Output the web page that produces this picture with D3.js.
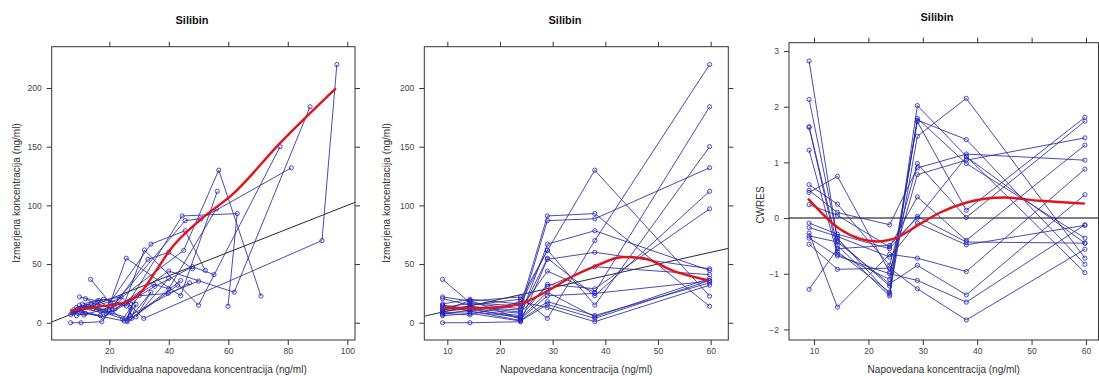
<!DOCTYPE html>
<html><head><meta charset="utf-8">
<script src="https://cdn.jsdelivr.net/npm/d3@7"></script>
<style>
body{margin:0;background:#fff;}
svg{font-family:"Liberation Sans",Arial,sans-serif;}
</style></head>
<body><svg id="c" width="1099" height="376"></svg>
<script>
// population predictions (shared design points)
const pred = [9.1, 14.3, 23.9, 29.0, 38.0, 59.8];
// measured concentrations per subject (time order)
const dv = [
 [22, 18.5, 22, 3.7, 70, 220],
 [13, 16.5, 12, 44, 26, 184],
 [16, 20, 16, 62, 15, 150],
 [11, 13.6, 10.8, 87, 88.6, 132],
 [9.5, 12.2, 8, 55, 23, 112],
 [8.5, 9.4, 5, 32.7, 29, 97],
 [20.5, 15, 20, 61.6, 130, 22.7],
 [37, 17, 14.3, 91, 93, 14],
 [7, 11, 6, 67, 78.4, 44.6],
 [0, 0, 0.85, 54, 60, 46],
 [12, 14, 9, 31, 47.7, 41],
 [10, 19, 3, 23, 25, 35.5],
 [14, 10, 2, 18, 6.2, 34],
 [8, 6.6, 18, 13, 0.9, 32],
 [6, 8, 1.5, 15.6, 3.7, 36],
 [15, 12, 4, 26, 5, 37.8]
];
// individual predictions per subject
const ipred = [
 [10, 16, 24, 31.6, 91.5, 96.5],
 [9, 14, 22, 40, 62, 87.5],
 [11, 18, 25, 31.8, 50, 77.4],
 [8, 12, 20, 45.5, 50.8, 81.2],
 [8.5, 11, 19, 25.7, 44, 56.3],
 [7.5, 10, 18, 35, 40, 56],
 [12, 16, 23.3, 45, 56.8, 71],
 [13.7, 20.3, 25.7, 44.5, 63, 59.9],
 [7, 9, 17, 34, 45.5, 52.3],
 [7, 10.5, 17.5, 33, 40, 48],
 [9.5, 13, 21, 35.3, 48, 55.2],
 [10.5, 16.5, 24.5, 30, 39.8, 50],
 [12.5, 17, 26, 28, 27, 47],
 [8, 11.5, 26.5, 27, 26, 43],
 [9, 12, 25, 29, 27.5, 44],
 [10, 14.5, 27, 34, 29, 40]
];
// conditional weighted residuals per subject
const cwres = [
 [2.82, -0.40, -1.22, 1.76, 1.41, -0.83],
 [2.13, -0.36, -1.37, 1.47, 2.15, -0.72],
 [1.64, -0.49, -1.40, 2.02, 1.11, -0.98],
 [1.63, -0.60, -1.33, 1.79, 0.98, -0.36],
 [1.22, -0.65, -1.10, 1.73, 0.14, 1.81],
 [0.60, 0.25, -0.85, 0.98, 0.01, 1.74],
 [0.50, 0.10, -0.12, 0.90, 1.15, 1.04],
 [0.46, 0.75, -0.97, 0.78, 1.04, 1.44],
 [0.24, 0.05, -0.52, 0.38, -0.40, 1.31],
 [-0.09, -0.29, -0.55, 0.03, -0.43, -0.45],
 [-0.17, -0.33, -0.70, -0.09, -0.48, -0.13],
 [-0.27, -1.60, -0.65, -0.72, -0.96, 0.88],
 [-0.32, -0.43, -1.18, -0.85, -1.38, 0.42],
 [-0.36, -0.68, -1.00, -1.12, -1.51, -0.12],
 [-0.47, -0.92, -0.90, -1.27, -1.83, -0.56],
 [-1.28, -0.55, -0.49, 0.00, 1.10, -0.45]
];
// loess smooth curves
const smooth1X = [6.8, 13, 20.2, 25.8, 30.3, 35.9, 40.4, 50.5, 61.7, 77.4, 96.2];
const smooth1Y = [10.2, 12.5, 15, 17.9, 25, 45, 62, 87.5, 110, 153, 199.7];
const smooth2X = [9.1, 14.3, 19, 23.8, 29, 34, 38, 43.4, 47.2, 53, 59.7];
const smooth2Y = [12.8, 12.3, 13, 16, 27, 40, 48, 56, 55, 44, 36];
const smooth3X = [8.9, 14.8, 18.5, 21.5, 25.2, 28.9, 33.2, 38.1, 44.8, 51.5, 59.8];
const smooth3Y = [0.35, -0.2, -0.375, -0.42, -0.35, -0.14, 0.1, 0.28, 0.37, 0.31, 0.26];
// tick values
const ticksX1 = [20, 40, 60, 80, 100];
const ticksX23 = [10, 20, 30, 40, 50, 60];
const ticksYconc = [0, 50, 100, 150, 200];
const ticksYcw = [-2, -1, 0, 1, 2, 3];

const title = "Silibin";
const svg = d3.select("#c");
const LINE = "#2a2aa0", PT = "#2020c8", RED = "#e3131b", TXT = "#333";

function panel(o){
  const g = svg.append("g");
  const x = d3.scaleLinear().domain(o.xd).range([o.L, o.R]);
  const y = d3.scaleLinear().domain(o.yd).range([o.B, o.T]);
  const clipId = "clip" + o.id;
  g.append("clipPath").attr("id", clipId).append("rect")
    .attr("x", o.L).attr("y", o.T).attr("width", o.R - o.L).attr("height", o.B - o.T);
  const inner = g.append("g").attr("clip-path", `url(#${clipId})`);
  if (o.ref === "identity") {
    inner.append("line").attr("x1", x(o.xd[0])).attr("y1", y(o.xd[0]))
      .attr("x2", x(o.xd[1])).attr("y2", y(o.xd[1]))
      .attr("stroke", "#111").attr("stroke-width", 0.9);
  } else {
    inner.append("line").attr("x1", o.L).attr("x2", o.R).attr("y1", y(0)).attr("y2", y(0))
      .attr("stroke", "#555").attr("stroke-width", 1.4);
  }
  const line = d3.line().x(d => x(d[0])).y(d => y(d[1]));
  o.series.forEach(s => {
    inner.append("path").attr("d", line(s)).attr("fill", "none")
      .attr("stroke", LINE).attr("stroke-width", 0.85);
  });
  o.series.forEach(s => {
    inner.selectAll(null).data(s).enter().append("circle")
      .attr("cx", d => x(d[0])).attr("cy", d => y(d[1])).attr("r", 2.1)
      .attr("fill", "none").attr("stroke", PT).attr("stroke-width", 0.8);
  });
  const sm = o.smX.map((v, i) => [v, o.smY[i]]);
  inner.append("path").attr("d", d3.line().curve(d3.curveMonotoneX).x(d => x(d[0])).y(d => y(d[1]))(sm))
    .attr("fill", "none").attr("stroke", RED).attr("stroke-width", 2.4);
  g.append("rect").attr("x", o.L).attr("y", o.T).attr("width", o.R - o.L).attr("height", o.B - o.T)
    .attr("fill", "none").attr("stroke", "#333").attr("stroke-width", 1);
  const fmt = d3.format("d");
  const ax = [
    d3.axisBottom(x).tickValues(o.tx).tickSize(5).tickPadding(3).tickFormat(fmt),
    d3.axisTop(x).tickValues(o.tx).tickSize(5).tickFormat(""),
    d3.axisLeft(y).tickValues(o.ty).tickSize(5).tickPadding(5).tickFormat(fmt),
    d3.axisRight(y).tickValues(o.ty).tickSize(5).tickFormat("")
  ];
  const tr = [`translate(0,${o.B})`, `translate(0,${o.T})`, `translate(${o.L},0)`, `translate(${o.R},0)`];
  ax.forEach((a, i) => {
    const ga = g.append("g").attr("transform", tr[i]).call(a);
    ga.select(".domain").remove();
    ga.selectAll("line").attr("stroke", "#333");
    ga.selectAll("text").attr("fill", "#444").style("font-size", "8.5px")
      .style("font-family", "'Liberation Sans',Arial,sans-serif");
  });
  g.append("text").attr("x", o.titleX).attr("y", o.titleY).attr("text-anchor", "middle")
    .style("font-weight", "bold").style("font-size", "11px").attr("fill", "#111").text(title);
  g.append("text").attr("x", (o.L + o.R) / 2).attr("y", 373).attr("text-anchor", "middle")
    .style("font-size", "10px").attr("fill", TXT).text(o.xlab);
  g.append("text").attr("transform", `translate(${o.ylabX},${o.ylabY}) rotate(-90)`)
    .attr("text-anchor", "middle").style("font-size", "10px").attr("fill", TXT).text(o.ylab);
}

panel({id: 1, L: 51.7, R: 355, T: 46.7, B: 340, xd: [0.64, 102.6], yd: [-14.7, 235.2],
  series: dv.map((r, i) => r.map((v, j) => [ipred[i][j], v])),
  smX: smooth1X, smY: smooth1Y, ref: "identity", tx: ticksX1, ty: ticksYconc,
  titleX: 192, titleY: 24, xlab: "Individualna napovedana koncentracija (ng/ml)",
  ylab: "Izmerjena koncentracija (ng/ml)", ylabX: 20, ylabY: 193});

panel({id: 2, L: 424.3, R: 728.3, T: 46.7, B: 340, xd: [5.63, 63.35], yd: [-14.7, 235.2],
  series: dv.map(r => r.map((v, j) => [pred[j], v])),
  smX: smooth2X, smY: smooth2Y, ref: "identity", tx: ticksX23, ty: ticksYconc,
  titleX: 565, titleY: 24, xlab: "Napovedana koncentracija (ng/ml)",
  ylab: "Izmerjena koncentracija (ng/ml)", ylabX: 390, ylabY: 193});

panel({id: 3, L: 789, R: 1098.5, T: 42.7, B: 340, xd: [5.4, 62.3], yd: [-2.19, 3.15],
  series: cwres.map(r => r.map((v, j) => [pred[j], v])),
  smX: smooth3X, smY: smooth3Y, ref: "zero", tx: ticksX23, ty: ticksYcw,
  titleX: 937, titleY: 21, xlab: "Napovedana koncentracija (ng/ml)",
  ylab: "CWRES", ylabX: 764, ylabY: 205});
</script></body></html>
